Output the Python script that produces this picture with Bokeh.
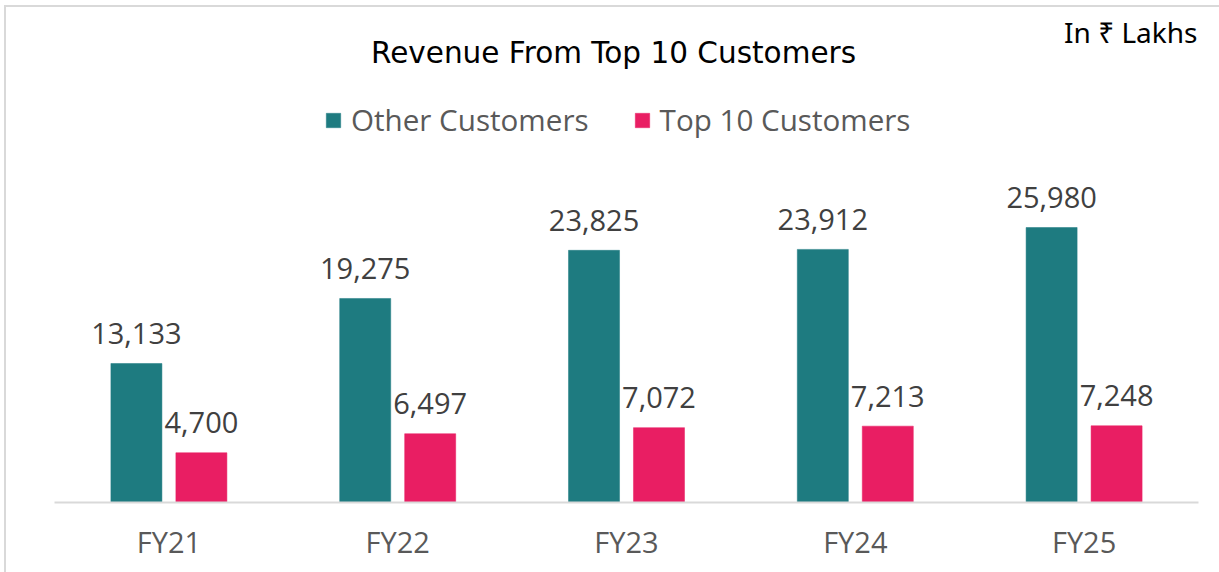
from bokeh.plotting import figure
from bokeh.models import ColumnDataSource, Range1d, FactorRange, Label, Legend, LegendItem
from bokeh.transform import dodge
from bokeh.core.properties import value
from bokeh.embed import file_html
from bokeh.resources import INLINE

years = ["FY21", "FY22", "FY23", "FY24", "FY25"]
other_customers = [13133, 19275, 23825, 23912, 25980]
top10_customers = [4700, 6497, 7072, 7213, 7248]
series_names = ["Other Customers", "Top 10 Customers"]
title_text = "Revenue From Top 10 Customers"
unit_text = "In \u20b9 Lakhs"

TEAL = "#1e7b80"
PINK = "#e91e63"
FONT = "Open Sans"

src = ColumnDataSource(dict(
    year=years,
    other=other_customers,
    top=top10_customers,
    other_lbl=[f"{v:,}" for v in other_customers],
    top_lbl=[f"{v:,}" for v in top10_customers],
))

W, H = 1219, 572
LINE = "#d9d9d9"
p = figure(width=W, height=H, x_range=FactorRange(*years, range_padding=0),
           y_range=Range1d(0, 46670), output_backend="svg", toolbar_location=None,
           min_border_left=54, min_border_right=21, min_border_top=8, min_border_bottom=70,
           y_axis_location=None, tools="",
           styles={"background": f"linear-gradient({LINE},{LINE}) 4px 5px / 2px 100% no-repeat, "
                                 f"linear-gradient({LINE},{LINE}) 4px 5px / 100% 2px no-repeat, white"})
p.border_fill_color = None
p.background_fill_color = "white"
p.outline_line_color = None
p.xgrid.grid_line_color = None
p.ygrid.grid_line_color = None

r1 = p.vbar(x=dodge("year", -0.142, range=p.x_range), top="other", width=0.223,
            source=src, fill_color=TEAL, line_color=TEAL, line_width=0.5)
r2 = p.vbar(x=dodge("year", 0.142, range=p.x_range), top="top", width=0.223,
            source=src, fill_color=PINK, line_color=PINK, line_width=0.5)

p.text(x=dodge("year", -0.142, range=p.x_range), y="other", text="other_lbl", source=src,
       text_align="center", text_baseline="alphabetic", y_offset=-30,
       text_font=value(FONT), text_font_size="29px", text_color="#404040")
p.text(x=dodge("year", 0.142, range=p.x_range), y="top", text="top_lbl", source=src,
       text_align="center", text_baseline="alphabetic", y_offset=-30,
       text_font=value(FONT), text_font_size="29px", text_color="#404040")

ax = p.xaxis[0]
ax.axis_line_color = LINE
ax.axis_line_width = 2
ax.major_tick_line_color = None
ax.minor_tick_line_color = None
ax.major_tick_out = 0
ax.major_tick_in = 0
ax.major_label_standoff = 19
ax.major_label_text_font = FONT
ax.major_label_text_font_size = "29px"
ax.major_label_text_color = "#595959"

legend = Legend(items=[LegendItem(label=series_names[0], renderers=[r1]),
                       LegendItem(label=series_names[1], renderers=[r2])],
                orientation="horizontal", location=(270, 362),
                glyph_width=18, glyph_height=18, label_standoff=9, spacing=44,
                padding=0, margin=0, border_line_color=None, background_fill_alpha=0,
                label_text_font=FONT, label_text_font_size="29.6px", label_text_color="#595959")
p.add_layout(legend, "center")

p.add_layout(Label(x=559, y=450, x_units="screen", y_units="screen", text=title_text,
                   text_align="center", text_baseline="middle", text_font="DejaVu Sans",
                   text_font_size="29.5px", text_color="#000000"))
p.add_layout(Label(x=1143, y=471, x_units="screen", y_units="screen", text=unit_text,
                   text_align="right", text_baseline="middle", text_font="Noto Sans",
                   text_font_size="28px", text_color="#000000"))

open("out.html", "w").write(file_html(p, INLINE))
